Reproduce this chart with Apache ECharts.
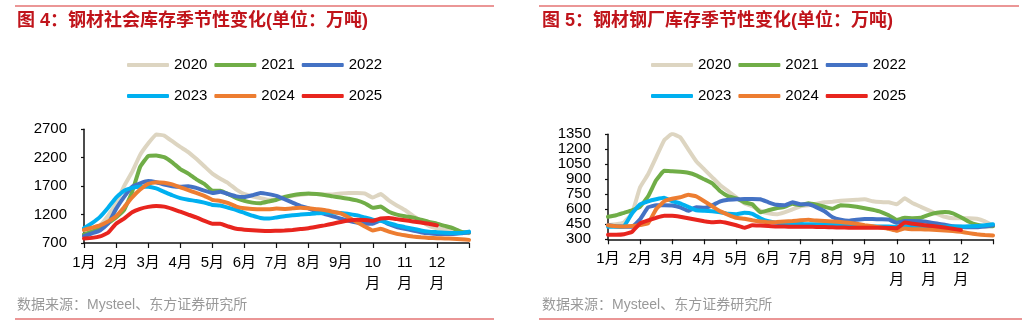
<!DOCTYPE html>
<html>
<head>
<meta charset="utf-8">
<script src="https://cdn.jsdelivr.net/npm/echarts@6/dist/echarts.min.js"></script>
<style>
  html, body { margin: 0; padding: 0; background: #fff; }
  #main { width: 1032px; height: 325px; }
</style>
</head>
<body>
<div id="main"></div>
<script>
// 每月4个点（约每周一个），x = 序号 / 4，单位：月
const years = ["2020", "2021", "2022", "2023", "2024", "2025"];
const colors = ["#DDD5C1", "#70AD47", "#4472C4", "#00B0F0", "#ED7D31", "#E8251E"];
const monthLabels = ["1月", "2月", "3月", "4月", "5月", "6月", "7月", "8月", "9月", "10\n月", "11\n月", "12\n月", ""];

// 图4 社会库存（万吨）
const social2020 = [930, 960, 1010, 1180, 1400, 1700, 1950, 2250, 2450, 2610, 2590, 2490, 2390, 2300, 2180, 2050, 1920, 1830, 1750, 1640, 1560, 1520, 1490, 1460, 1470,
  1500, 1530, 1550, 1560, 1560, 1555, 1555, 1570, 1580, 1580, 1570, 1500, 1560, 1450, 1360, 1280, 1180, 1090, 1000, 960, 940, 910, 890, 870];
const social2021 = [850, 900, 960, 1050, 1150, 1280, 1600, 2040, 2230, 2240, 2210, 2120, 2000, 1920, 1820, 1740, 1620, 1620, 1560, 1490, 1440, 1410, 1400, 1430, 1460,
  1510, 1540, 1560, 1570, 1560, 1545, 1520, 1500, 1480, 1450, 1400, 1320, 1340, 1250, 1200, 1170, 1150, 1110, 1070, 1040, 1000, 960, 900, 880];
const social2022 = [820, 870, 920, 1040, 1300, 1510, 1690, 1750, 1790, 1770, 1730, 1700, 1690, 1700, 1670, 1620, 1580, 1600, 1560, 1520, 1510, 1540, 1580, 1560, 1530,
  1470, 1410, 1350, 1310, 1250, 1210, 1170, 1130, 1090, 1060, 1040, 1040, 1100, 1030, 980, 950, 920, 890, 870, 860, 860, 860, 870, 890];
const social2023 = [960, 1050, 1160, 1320, 1500, 1620, 1670, 1690, 1690, 1660, 1600, 1540, 1490, 1460, 1440, 1410, 1370, 1360, 1320, 1280, 1230, 1180, 1140, 1130, 1150,
  1170, 1190, 1200, 1210, 1225, 1230, 1235, 1230, 1210, 1190, 1150, 1110, 1090, 1050, 1010, 980, 950, 920, 900, 890, 880, 875, 875, 900];
const social2024 = [930, 970, 1010, 1080, 1170, 1330, 1500, 1640, 1740, 1770, 1760, 1730, 1680, 1630, 1580, 1530, 1460, 1440, 1400, 1340, 1310, 1300, 1295, 1295, 1305,
  1300, 1310, 1320, 1310, 1295, 1280, 1250, 1220, 1150, 1070, 990, 920, 950, 900, 860, 835, 815, 800, 790, 785, 780, 775, 765, 755];
const social2025 = [780, 790, 815, 880, 1040, 1130, 1240, 1300, 1335, 1350, 1340, 1300, 1250, 1200, 1150, 1090, 1040, 1040, 990, 950, 935, 925, 915, 910, 915,
  920, 930, 945, 960, 985, 1010, 1040, 1070, 1095, 1110, 1105, 1090, 1130, 1140, 1120, 1100, 1080, 1060, 1040, 1010];

// 图5 钢厂库存（万吨）
const mill2020 = [440, 450, 470, 560, 820, 950, 1120, 1290, 1355, 1320, 1200, 1080, 1000, 920, 840, 780, 720, 660, 630, 585, 560, 550, 570, 600, 630,
  640, 655, 670, 675, 685, 690, 695, 700, 680, 672, 670, 650, 710, 660, 625, 590, 555, 525, 510, 510, 510, 505, 480, 440];
const mill2021 = [525, 540, 565, 590, 625, 730, 890, 985, 980, 975, 965, 940, 900, 860, 780, 730, 710, 670, 650, 570, 590, 610, 625, 655, 640,
  660, 645, 625, 605, 640, 635, 625, 610, 595, 575, 540, 495, 515, 510, 515, 545, 565, 572, 560, 520, 475, 445, 430, 430];
const mill2022 = [440, 430, 425, 425, 500, 620, 640, 640, 637, 620, 585, 620, 615, 640, 680, 695, 700, 702, 703, 700, 670, 645, 640, 670, 650,
  650, 620, 580, 520, 495, 485, 495, 502, 502, 500, 498, 465, 482, 483, 480, 470, 458, 445, 430, 425, 420, 420, 428, 440];
const mill2023 = [425, 425, 430, 560, 650, 680, 700, 715, 680, 660, 625, 590, 585, 580, 570, 555, 550, 565, 555, 510, 480, 465, 460, 460, 455,
  450, 450, 450, 448, 445, 440, 435, 430, 428, 428, 428, 425, 430, 430, 430, 430, 428, 428, 428, 428, 430, 432, 440, 450];
const mill2024 = [440, 430, 428, 432, 443, 460, 600, 680, 705, 720, 745, 730, 680, 630, 580, 545, 515, 505, 490, 478, 470, 472, 478, 483, 490,
  495, 487, 482, 478, 472, 465, 455, 440, 430, 418, 405, 385, 408, 400, 400, 398, 393, 388, 383, 375, 362, 350, 342, 338];
const mill2025 = [345, 345, 350, 375, 460, 490, 515, 535, 535, 525, 510, 495, 480, 470, 475, 460, 440, 415, 440, 438, 432, 428, 428, 425, 425,
  425, 424, 422, 420, 418, 416, 416, 416, 416, 415, 414, 410, 468, 455, 445, 436, 428, 418, 405, 393];

const socialData = [social2020, social2021, social2022, social2023, social2024, social2025];
const millData = [mill2020, mill2021, mill2022, mill2023, mill2024, mill2025];

const font = "Liberation Sans, Noto Sans CJK SC, sans-serif";
const toPts = (arr) => arr.map((v, i) => [i / 4, v]);

function makeX(gridIndex) {
  return {
    type: "value",
    gridIndex: gridIndex,
    min: 0,
    max: 12,
    interval: 1,
    axisLine: { lineStyle: { color: "#111", width: 1.5 } },
    axisTick: { length: 5, lineStyle: { color: "#111", width: 1.2 } },
    axisLabel: {
      formatter: (v) => monthLabels[Math.round(v)],
      color: "#000",
      fontSize: 15,
      fontFamily: font,
      margin: 9,
      lineHeight: 21,
      showMaxLabel: true,
    },
    splitLine: { show: false },
  };
}

function makeY(gridIndex, min, max, interval) {
  return {
    type: "value",
    gridIndex: gridIndex,
    min: min,
    max: max,
    interval: interval,
    axisLine: { show: true, lineStyle: { color: "#111", width: 1.5 } },
    axisTick: { show: true, length: 3, lineStyle: { color: "#111", width: 1.2 } },
    axisLabel: {
      formatter: (v) => String(v), // 不要千分位逗号
      color: "#000",
      fontSize: 15,
      fontFamily: font,
      margin: 17,
    },
    splitLine: { show: false },
  };
}

function makeLegend(left, top, names) {
  return {
    left: left,
    top: top,
    padding: 0,
    itemGap: 7,
    itemWidth: 42,
    itemHeight: 4,
    icon: "roundRect",
    data: names,
    textStyle: { color: "#000", fontSize: 15, fontFamily: font, lineHeight: 18 },
  };
}

const series = [];
[socialData, millData].forEach((group, g) => {
  group.forEach((arr, i) => {
    series.push({
      name: years[i],
      type: "line",
      xAxisIndex: g,
      yAxisIndex: g,
      data: toPts(arr),
      showSymbol: false,
      symbol: "none",
      smooth: 0.1,
      lineStyle: { width: 4, color: colors[i], cap: "round", join: "round" },
      itemStyle: { color: colors[i] },
      emphasis: { disabled: true },
      z: 2 + i,
    });
  });
});

const myChart = echarts.init(document.getElementById("main"));
const option = {
  backgroundColor: "#fff",
  animation: false,
  title: [
    {
      text: "图 4：钢材社会库存季节性变化(单位：万吨)",
      left: 17,
      top: 12,
      padding: 0,
      textStyle: { color: "#C0141B", fontSize: 18, fontWeight: "bold", fontFamily: font },
    },
    {
      text: "图 5：钢材钢厂库存季节性变化(单位：万吨)",
      left: 542,
      top: 12,
      padding: 0,
      textStyle: { color: "#C0141B", fontSize: 18, fontWeight: "bold", fontFamily: font },
    },
  ],
  legend: [
    makeLegend(127, 56, years.slice(0, 3)),
    makeLegend(127, 87, years.slice(3)),
    makeLegend(651, 56, years.slice(0, 3)),
    makeLegend(651, 87, years.slice(3)),
  ],
  grid: [
    { left: 84, top: 129.3, width: 385, height: 113.7 },
    { left: 608, top: 134.3, width: 385, height: 105 },
  ],
  xAxis: [makeX(0), makeX(1)],
  yAxis: [makeY(0, 700, 2700, 500), makeY(1, 300, 1350, 150)],
  series: series,
  graphic: [
    { type: "line", shape: { x1: 15, y1: 6, x2: 494, y2: 6 }, style: { stroke: "#E57373", lineWidth: 1.5 } },
    { type: "line", shape: { x1: 539, y1: 6, x2: 1019, y2: 6 }, style: { stroke: "#E57373", lineWidth: 1.5 } },
    { type: "line", shape: { x1: 15, y1: 319, x2: 494, y2: 319 }, style: { stroke: "#E57373", lineWidth: 1.5 } },
    { type: "line", shape: { x1: 539, y1: 319, x2: 1022, y2: 319 }, style: { stroke: "#E57373", lineWidth: 1.5 } },
    {
      type: "text",
      left: 17,
      top: 298,
      style: { text: "数据来源：Mysteel、东方证券研究所", fill: "#999", fontSize: 14, fontFamily: font },
    },
    {
      type: "text",
      left: 542,
      top: 298,
      style: { text: "数据来源：Mysteel、东方证券研究所", fill: "#999", fontSize: 14, fontFamily: font },
    },
  ],
};
myChart.setOption(option);
</script>
</body>
</html>
